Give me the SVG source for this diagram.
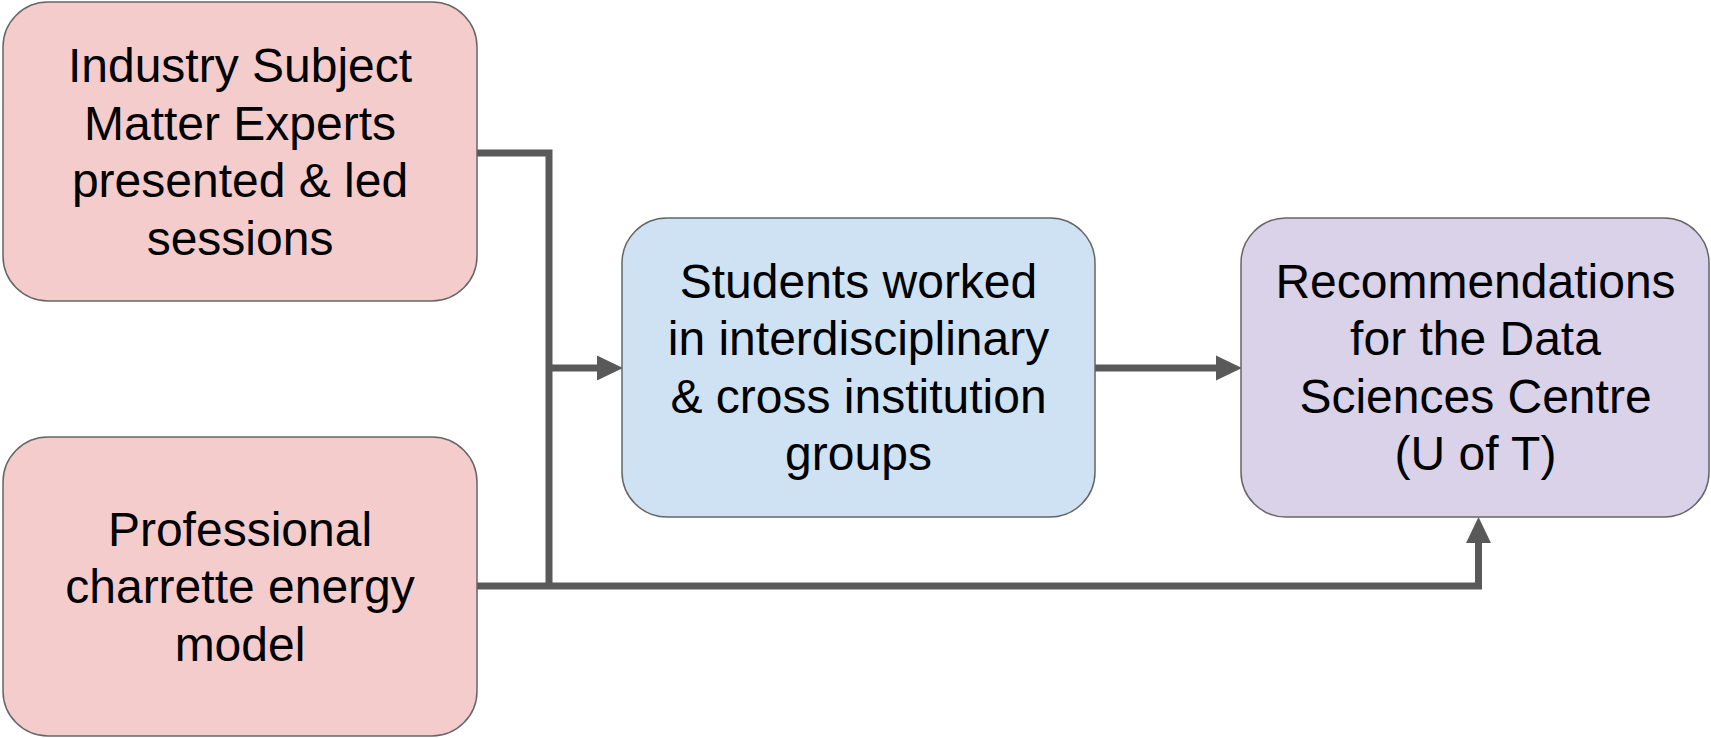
<svg xmlns="http://www.w3.org/2000/svg" width="1711" height="738" viewBox="0 0 1711 738">
<style>
.box{stroke:#666666;stroke-width:1.5}
.pink{fill:#f4cccc}
.blue{fill:#cfe2f3}
.purple{fill:#d9d2e9}
.lbl{font-family:"Liberation Sans",Arial,sans-serif;font-size:48px;fill:#000;text-anchor:middle}
.conn{fill:none;stroke:#595959;stroke-width:7;stroke-linejoin:miter;stroke-linecap:butt}
</style>
<defs>
<marker id="arr" markerUnits="userSpaceOnUse" markerWidth="26" markerHeight="26" refX="1" refY="12" orient="auto" viewBox="0 0 25 24">
<path d="M0,0 L25,12 L0,24 Z" fill="#595959"/>
</marker>
</defs>
<rect width="1711" height="738" fill="#ffffff"/>
<g id="connectors">
<path class="conn" d="M477,153 H549 V586"/>
<path class="conn" d="M549,368 H598" marker-end="url(#arr)"/>
<path class="conn" d="M1095,368 H1217" marker-end="url(#arr)"/>
<path class="conn" d="M477,586 H1478.5 V542" marker-end="url(#arr)"/>
</g>
<g id="node-experts">
<rect class="box pink" x="3" y="2" width="474" height="299" rx="45" ry="45"/>
<text class="lbl" x="240"><tspan x="240" y="82">Industry Subject</tspan><tspan x="240" y="139.5">Matter Experts</tspan><tspan x="240" y="197">presented &amp; led</tspan><tspan x="240" y="254.5">sessions</tspan></text>
</g>
<g id="node-charrette">
<rect class="box pink" x="3" y="437" width="474" height="299" rx="45" ry="45"/>
<text class="lbl" x="240"><tspan x="240" y="545.5">Professional</tspan><tspan x="240" y="603">charrette energy</tspan><tspan x="240" y="660.5">model</tspan></text>
</g>
<g id="node-students">
<rect class="box blue" x="622" y="218" width="473" height="299" rx="45" ry="45"/>
<text class="lbl" x="858.5"><tspan x="858.5" y="297.75">Students worked</tspan><tspan x="858.5" y="355.25">in interdisciplinary</tspan><tspan x="858.5" y="412.75">&amp; cross institution</tspan><tspan x="858.5" y="470.25">groups</tspan></text>
</g>
<g id="node-recommendations">
<rect class="box purple" x="1241" y="218" width="468" height="299" rx="45" ry="45"/>
<text class="lbl" x="1475.5"><tspan x="1475.5" y="297.75">Recommendations</tspan><tspan x="1475.5" y="355.25">for the Data</tspan><tspan x="1475.5" y="412.75">Sciences Centre</tspan><tspan x="1475.5" y="470.25">(U of T)</tspan></text>
</g>
</svg>
